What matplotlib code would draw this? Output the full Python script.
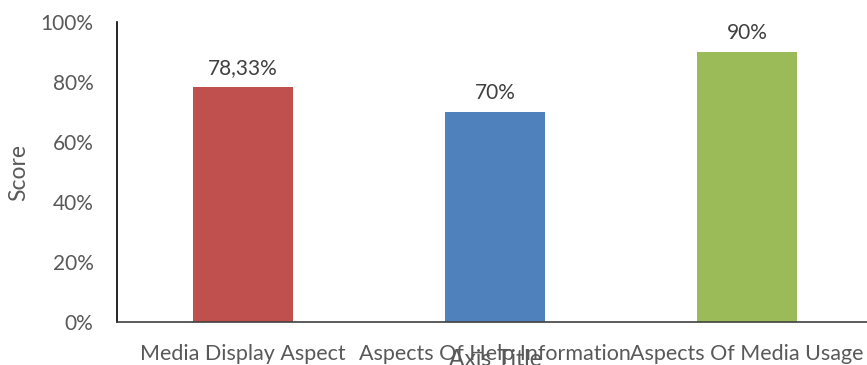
import matplotlib.pyplot as plt
import numpy as np

# Données du graphique
categories = ["Media Display Aspect", "Aspects Of Help Information", "Aspects Of Media Usage"]
scores = [78.33, 70, 90]
labels = ["78,33%", "70%", "90%"]
colors = ["#C0504D", "#4F81BD", "#9BBB59"]
y_ticks = [0, 20, 40, 60, 80, 100]

plt.rcParams['font.family'] = ['Lato', 'DejaVu Sans']

fig = plt.figure(figsize=(8.67, 3.65), dpi=100)
ax = fig.add_axes([117 / 867, 43 / 365, 756 / 867, 300 / 365])

x = np.arange(len(categories)) + 0.5
bars = ax.bar(x, scores, width=0.4, color=colors)

for xi, s, lab in zip(x, scores, labels):
    ax.text(xi, s + 3, lab, ha="center", va="bottom", fontsize=15, color="#404040")

ax.set_xlim(0, 3)
ax.set_ylim(0, 100)
ax.set_yticks(y_ticks)
ax.set_yticklabels([f"{v}%" for v in y_ticks])
ax.set_xticks(x)
ax.set_xticklabels(categories)
ax.tick_params(axis="both", length=0, labelcolor="#595959")
ax.tick_params(axis="y", labelsize=15, pad=17)
ax.tick_params(axis="x", labelsize=15.5, pad=16)

ax.set_ylabel("Score", fontsize=16.5, color="#595959", labelpad=8)
ax.set_xlabel("Axis Title", fontsize=16.5, color="#595959", labelpad=-11)

for side in ["top", "right"]:
    ax.spines[side].set_visible(False)
ax.spines["left"].set_color("#000000")
ax.spines["bottom"].set_color("#404040")
ax.spines["left"].set_linewidth(1.2)
ax.spines["bottom"].set_linewidth(1.2)

fig.savefig("out.png", dpi=100)
